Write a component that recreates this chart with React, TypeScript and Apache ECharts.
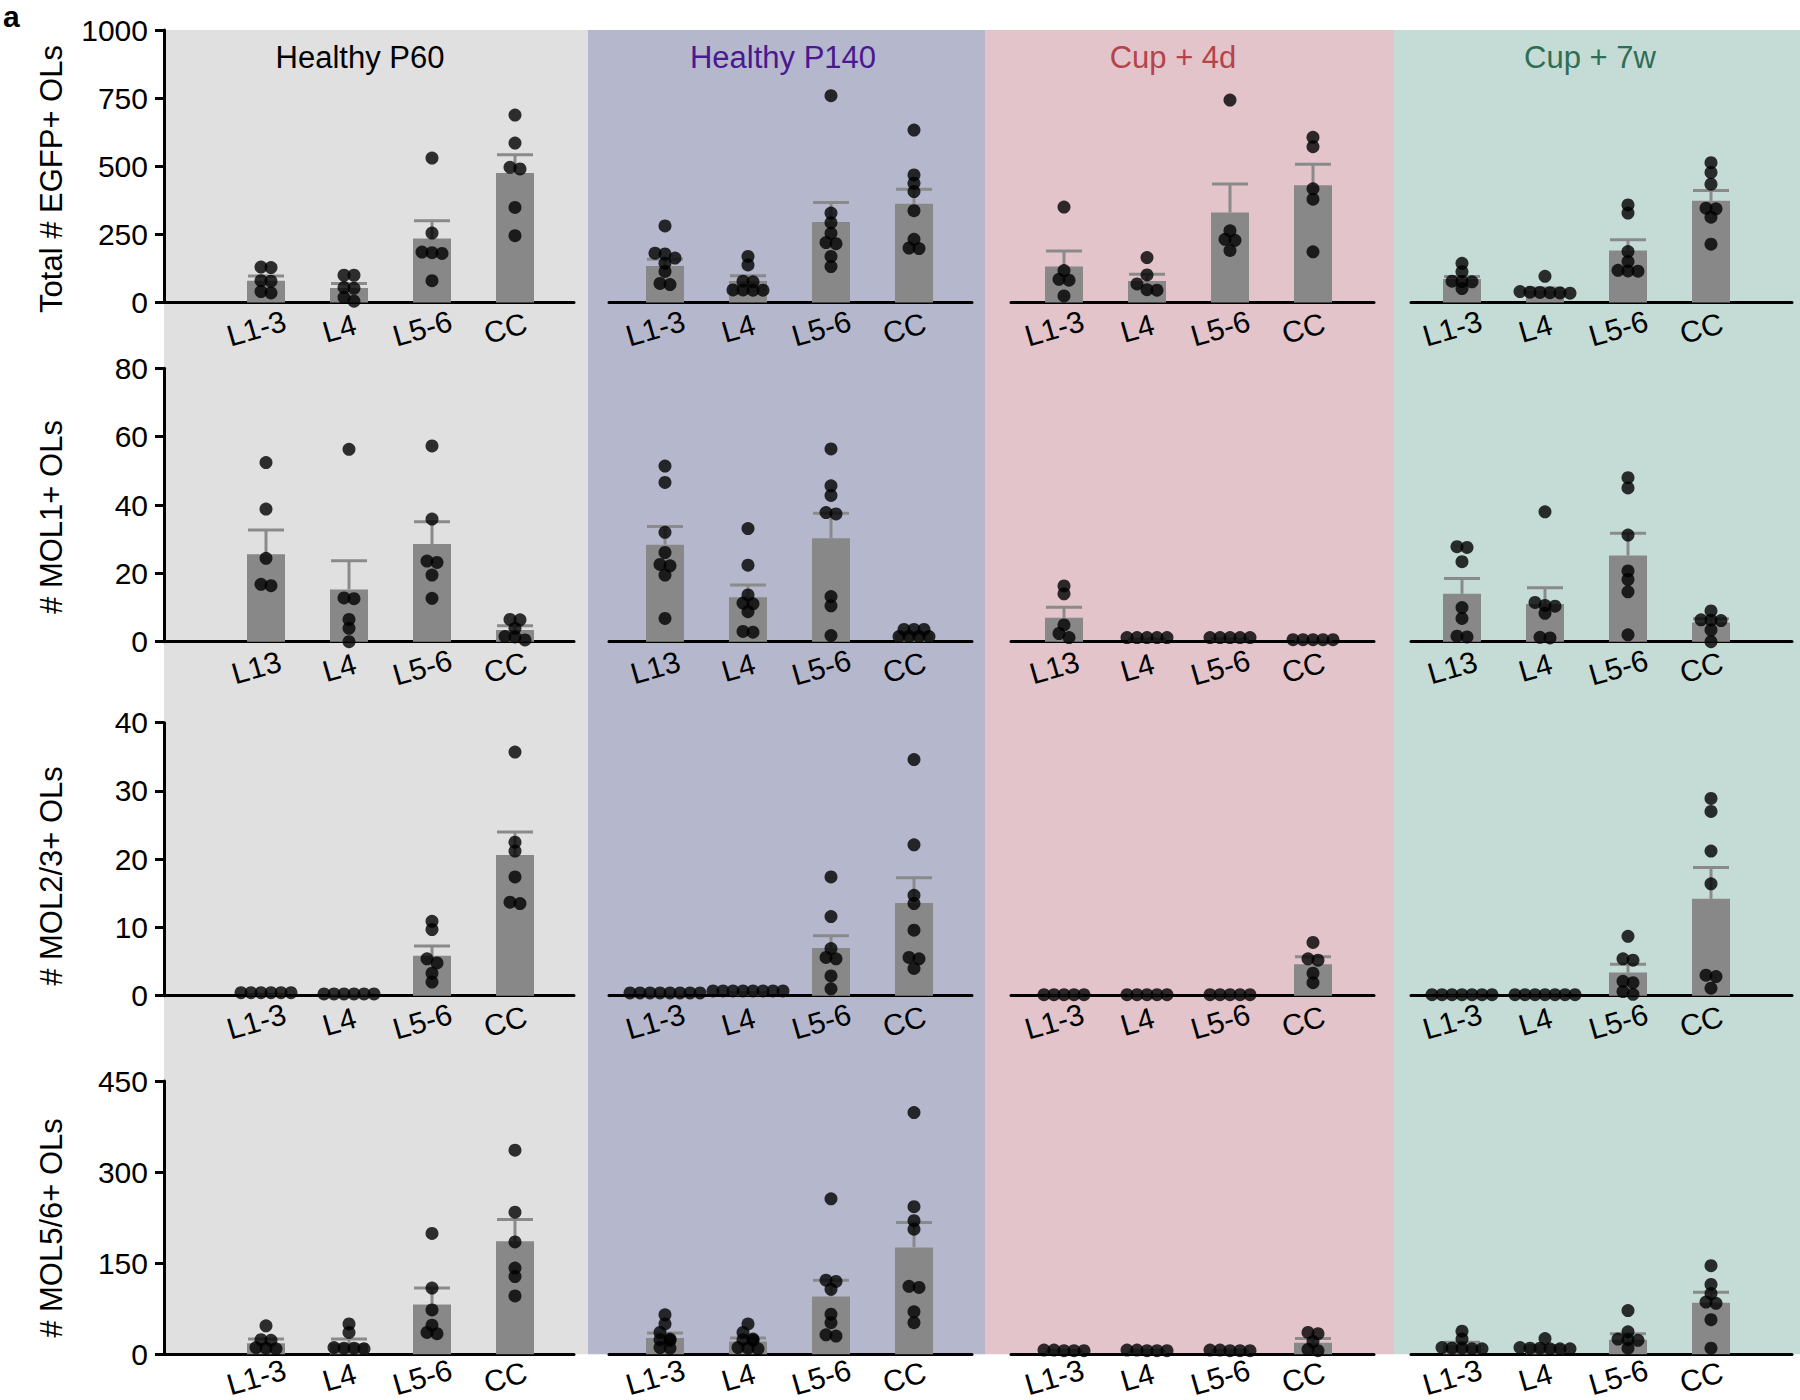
import React, { useEffect, useRef } from "react";
import * as echarts from "echarts";

// ---------- DATA ----------
const groups = ["Healthy P60", "Healthy P140", "Cup + 4d", "Cup + 7w"];
const layerCats = ["L1-3", "L4", "L5-6", "CC"];
const layerCatsMol1 = ["L13", "L4", "L5-6", "CC"];
const rowTitles = ["Total # EGFP+ OLs", "# MOL1+ OLs", "# MOL2/3+ OLs", "# MOL5/6+ OLs"];
const yMaxes = [1000, 80, 40, 450];
const yIntervals = [250, 20, 10, 150];

// Total EGFP+ (per group: [L1-3, L4, L5-6, CC])
const egfpMean = [[80, 53, 235, 475], [134, 79, 295, 362], [132, 79, 330, 430], [86, 45, 191, 373]];
const egfpSem = [[17, 17, 65, 67], [25, 19, 72, 54], [57, 25, 105, 77], [9, 8, 39, 38]];
const egfpDots = [
  [[130, 128, 80, 78, 40, 35], [100, 100, 55, 52, 18, 5], [530, 255, 185, 183, 180, 80], [688, 585, 496, 490, 349, 245]],
  [[281, 181, 178, 163, 144, 114, 70, 66], [169, 138, 78, 76, 46, 46, 45, 45], [759, 328, 293, 254, 220, 216, 169, 132], [633, 468, 438, 407, 337, 232, 200, 198]],
  [[350, 117, 85, 82, 24], [165, 101, 68, 47, 45], [743, 263, 232, 228, 191], [606, 572, 417, 379, 186]],
  [[144, 113, 78, 77, 76, 51], [96, 40, 38, 37, 36, 35, 34], [358, 328, 187, 150, 118, 116, 115], [513, 477, 434, 346, 344, 313, 214]],
];

// MOL1+
const mol1Mean = [[25.6, 15.3, 28.6, 3.4], [28.4, 13, 30.3, 2.3], [7, 1.2, 1.2, 0.6], [14, 11, 25.2, 5.6]];
const mol1Sem = [[7.1, 8.4, 6.5, 1.3], [5.3, 3.6, 7.3, 0.5], [3.1, 0, 0, 0], [4.5, 4.8, 6.5, 1.1]];
const mol1Dots = [
  [[52.4, 38.8, 24.4, 16.8, 16.4], [56.3, 12.8, 12.6, 6.5, 3.9, 0], [57.3, 35.9, 23.6, 23.2, 19.5, 12.7], [6.5, 6.4, 3.9, 1.5, 1.4, 0.5]],
  [[51.4, 46.6, 32, 26.1, 22.6, 22.2, 19.5, 6.8], [33.1, 22.4, 13.7, 11.3, 11.1, 8.8, 3, 2.8], [56.4, 45.6, 42.8, 37.8, 37.4, 13.2, 10.5, 1.8], [3.6, 3.6, 3.6, 1.5, 1.5, 1.5, 1.5]],
  [[16.3, 14, 4.9, 2.4, 1.2], [1.2, 1.2, 1.2, 1.2, 1.2], [1.2, 1.2, 1.2, 1.2, 1.2], [0.6, 0.6, 0.6, 0.6, 0.6]],
  [[27.8, 27.6, 23.4, 10, 6.8, 1.6, 1.4], [38, 11.5, 10.6, 10.4, 8.3, 1.3, 1.1], [48, 45, 31.2, 20.7, 18.2, 14.6, 2], [9, 6.4, 6.3, 6.2, 3.4, 0]],
];

// MOL2/3+
const mol23Mean = [[0.45, 0.25, 5.85, 20.6], [0.35, 0.65, 7, 13.6], [0.15, 0.15, 0.15, 4.6], [0.1, 0.1, 3.4, 14.2]];
const mol23Sem = [[0, 0, 1.45, 3.4], [0, 0, 1.8, 3.7], [0, 0, 0, 1.1], [0, 0, 1.2, 4.6]];
const mol23Dots = [
  [[0.45, 0.45, 0.45, 0.45, 0.45, 0.45], [0.25, 0.25, 0.25, 0.25, 0.25, 0.25], [10.9, 9.7, 5.4, 4.8, 3.3, 2], [35.7, 22.5, 21.2, 17.4, 13.7, 13.5]],
  [[0.4, 0.4, 0.4, 0.4, 0.4, 0.4, 0.4, 0.4], [0.7, 0.7, 0.7, 0.7, 0.7, 0.7, 0.7, 0.7], [17.4, 11.6, 6.9, 5.6, 5.4, 2.9, 1], [34.6, 22.1, 14.7, 13.5, 9.6, 5.6, 5.4, 4]],
  [[0.15, 0.15, 0.15, 0.15, 0.15], [0.15, 0.15, 0.15, 0.15, 0.15], [0.15, 0.15, 0.15, 0.15, 0.15], [7.8, 5.4, 5.2, 3.3, 1.9]],
  [[0.15, 0.15, 0.15, 0.15, 0.15, 0.15, 0.15], [0.15, 0.15, 0.15, 0.15, 0.15, 0.15, 0.15], [8.7, 5.4, 5.2, 2.1, 1.9, 0.6, 0.2], [28.9, 27, 21.2, 16.4, 3, 2.8, 1.1]],
];

// MOL5/6+
const mol56Mean = [[18, 18, 82, 186], [27, 21, 95, 176], [6, 6, 6, 19], [16, 12, 24, 85]];
const mol56Sem = [[7, 7, 27, 36], [8, 6, 27, 41], [0.5, 0.5, 0.5, 7], [4, 2.4, 10, 17]];
const mol56Dots = [
  [[47, 24, 23, 11, 10, 9], [50, 36, 11, 10, 10, 9], [199, 109, 73, 48, 36, 34], [336, 234, 185, 142, 128, 96]],
  [[65, 50, 36, 25, 24, 23, 11, 10], [50, 36, 25, 24, 23, 11, 10, 9], [256, 122, 120, 107, 66, 52, 32, 30], [398, 243, 220, 206, 112, 110, 70, 52]],
  [[7, 7, 6, 6, 6], [7, 7, 6, 6, 6], [7, 7, 6, 6, 6], [36, 34, 21, 8, 6]],
  [[38, 25, 11, 10, 10, 9, 9], [26, 11, 10, 10, 9, 9, 9], [72, 37, 25, 24, 23, 10], [146, 115, 100, 86, 84, 57, 10]],
];

// ---------- STYLE / LAYOUT ----------
const FONT = "'Liberation Sans', Arial, Helvetica, sans-serif";
const titleColors = ["#000000", "#4a1890", "#b5434c", "#2f6d55"];
const bgColors = ["#e0e0e0", "#b5b8cd", "#e2c4ca", "#c4dcd5"];
const FRAME_X = [[164, 574], [609, 972], [1011, 1374], [1411, 1792]];
const BAND_LEFT = [224.5, 623.5, 1022.5, 1420.5];
const BAND_W = 332;
const ROW_TOP = [30, 368.3, 722.7, 1081];
const ROW_ZERO = [302.5, 641.7, 995.7, 1354.3];
const ROW_TITLE_Y = [179, 517, 876, 1228];
const LABEL_MARGIN = [23, 23, 23, 20];
const LABEL_PAD = 20;
const LABEL_ROTATE = 16;
const BG_EDGES = [164, 588, 985, 1394, 1800];
const TITLE_X = [360, 783, 1173, 1590];
const DOT = 13;
const DOT_SP = 10;

function swarmOffsets(vals: number[], pxPerUnit: number): number[] {
  const order = vals.map((_, i) => i).sort((a, b) => vals[b] - vals[a]);
  const offs = new Array(vals.length).fill(0);
  let row: number[] = [];
  let rowY = 0;
  const flush = () => {
    row.forEach((id, j) => {
      offs[id] = (j - (row.length - 1) / 2) * DOT_SP;
    });
  };
  for (const id of order) {
    const y = vals[id] * pxPerUnit;
    if (row.length && Math.abs(rowY - y) < 7) row.push(id);
    else {
      flush();
      row = [id];
      rowY = y;
    }
  }
  flush();
  return offs;
}

function buildOption() {
  const rows = [
    { cats: layerCats, mean: egfpMean, sem: egfpSem, dots: egfpDots },
    { cats: layerCatsMol1, mean: mol1Mean, sem: mol1Sem, dots: mol1Dots },
    { cats: layerCats, mean: mol23Mean, sem: mol23Sem, dots: mol23Dots },
    { cats: layerCats, mean: mol56Mean, sem: mol56Sem, dots: mol56Dots },
  ];
  const grid: any[] = [];
  const xAxis: any[] = [];
  const yAxis: any[] = [];
  const series: any[] = [];

  rows.forEach((row, r) => {
    const top = ROW_TOP[r];
    const h = ROW_ZERO[r] - top;
    const max = yMaxes[r];
    const pxPerUnit = h / max;
    for (let c = 0; c < 4; c++) {
      const fi = grid.length;
      grid.push({
        left: FRAME_X[c][0], top, width: FRAME_X[c][1] - FRAME_X[c][0], height: h,
        containLabel: false, outerBoundsMode: "none",
      });
      xAxis.push({
        gridIndex: fi, type: "value", min: 0, max: 1,
        axisLine: { show: true, onZero: false, lineStyle: { color: "#000", width: 3 } },
        axisTick: { show: false }, axisLabel: { show: false }, splitLine: { show: false },
      });
      yAxis.push({
        gridIndex: fi, type: "value", min: 0, max, interval: yIntervals[r], show: c === 0,
        axisLine: { show: true, onZero: false, lineStyle: { color: "#000", width: 3 } },
        axisTick: { show: true, length: 9, lineStyle: { color: "#000", width: 3 } },
        axisLabel: {
          color: "#000", fontSize: 30, fontFamily: FONT, margin: 16,
          formatter: (v: number) => String(v),
        },
        splitLine: { show: false },
      });
      const di = grid.length;
      grid.push({
        left: BAND_LEFT[c], top, width: BAND_W, height: h,
        containLabel: false, outerBoundsMode: "none",
      });
      xAxis.push({
        gridIndex: di, type: "category", data: row.cats,
        axisLine: { show: false }, axisTick: { show: false }, splitLine: { show: false },
        axisLabel: {
          interval: 0, rotate: LABEL_ROTATE, color: "#000", fontSize: 30, fontFamily: FONT,
          margin: LABEL_MARGIN[r], align: "center", verticalAlign: "middle", padding: [0, LABEL_PAD, 0, 0],
        },
      });
      yAxis.push({ gridIndex: di, type: "value", min: 0, max, show: false, splitLine: { show: false } });

      series.push({
        type: "bar", xAxisIndex: di, yAxisIndex: di, z: 2, barWidth: 38,
        itemStyle: { color: "#888888" }, data: row.mean[c], silent: true,
      });
      series.push({
        type: "custom", xAxisIndex: di, yAxisIndex: di, z: 3, silent: true,
        data: row.mean[c].map((m, i) => [i, m, row.sem[c][i]]),
        encode: { x: 0, y: 1 },
        renderItem: (params: any, api: any) => {
          const i = api.value(0);
          const m = api.value(1);
          const s = api.value(2);
          if (!(s > 0)) return null;
          const p0 = api.coord([i, m]);
          const p1 = api.coord([i, m + s]);
          const hw = 18;
          return {
            type: "group",
            children: [
              { type: "line", shape: { x1: p0[0], y1: p0[1], x2: p1[0], y2: p1[1] }, style: { stroke: "#8a8a8a", lineWidth: 3 } },
              { type: "line", shape: { x1: p1[0] - hw, y1: p1[1], x2: p1[0] + hw, y2: p1[1] }, style: { stroke: "#8a8a8a", lineWidth: 3 } },
            ],
          };
        },
      });
      const pts: any[] = [];
      row.dots[c].forEach((vals, i) => {
        const offs = swarmOffsets(vals, pxPerUnit);
        vals.forEach((v, k) => pts.push({ value: [i, v], symbolOffset: [offs[k], 0] }));
      });
      series.push({
        type: "scatter", xAxisIndex: di, yAxisIndex: di, z: 4, silent: true,
        symbol: "circle", symbolSize: DOT, itemStyle: { color: "#000" }, data: pts,
      });
    }
  });

  const graphic: any[] = [];
  for (let c = 0; c < 4; c++) {
    graphic.push({
      type: "rect", z: -10, silent: true,
      shape: { x: BG_EDGES[c], y: ROW_TOP[0], width: BG_EDGES[c + 1] - BG_EDGES[c], height: ROW_ZERO[3] - ROW_TOP[0] },
      style: { fill: bgColors[c] },
    });
    graphic.push({
      type: "text", z: 10, x: TITLE_X[c], y: 57,
      style: { text: groups[c], fill: titleColors[c], fontSize: 31, fontFamily: FONT, align: "center", verticalAlign: "middle" },
    });
  }
  for (let r = 0; r < 4; r++) {
    graphic.push({
      type: "text", z: 10, x: 51, y: ROW_TITLE_Y[r], rotation: Math.PI / 2,
      style: { text: rowTitles[r], fill: "#000", fontSize: 31, fontFamily: FONT, align: "center", verticalAlign: "middle" },
    });
  }
  graphic.push({
    type: "text", z: 10, x: 3, y: 1,
    style: { text: "a", fill: "#000", fontSize: 30, fontWeight: "bold", fontFamily: FONT, align: "left", verticalAlign: "top" },
  });

  return {
    animation: false,
    backgroundColor: "#ffffff",
    grid, xAxis, yAxis, series, graphic,
  };
}

export default function App() {
  const ref = useRef<HTMLDivElement>(null);
  useEffect(() => {
    document.body.style.margin = "0";
    const chart = echarts.init(ref.current as HTMLDivElement, null, { renderer: "svg" });
    chart.setOption(buildOption() as any);
    return () => chart.dispose();
  }, []);
  return <div ref={ref} style={{ width: 1800, height: 1400 }} />;
}
